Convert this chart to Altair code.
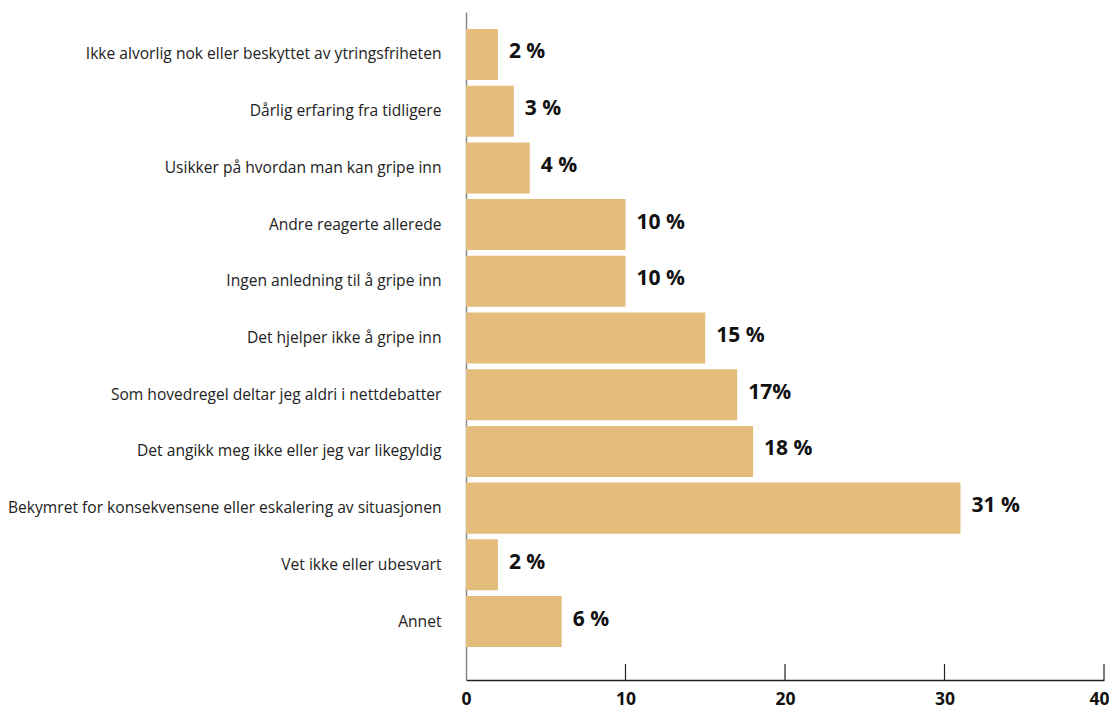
import altair as alt
import pandas as pd

categories = [
    "Ikke alvorlig nok eller beskyttet av ytringsfriheten",
    "Dårlig erfaring fra tidligere",
    "Usikker på hvordan man kan gripe inn",
    "Andre reagerte allerede",
    "Ingen anledning til å gripe inn",
    "Det hjelper ikke å gripe inn",
    "Som hovedregel deltar jeg aldri i nettdebatter",
    "Det angikk meg ikke eller jeg var likegyldig",
    "Bekymret for konsekvensene eller eskalering av situasjonen",
    "Vet ikke eller ubesvart",
    "Annet",
]
values = [2, 3, 4, 10, 10, 15, 17, 18, 31, 2, 6]
labels = ["2 %", "3 %", "4 %", "10 %", "10 %", "15 %", "17%", "18 %", "31 %", "2 %", "6 %"]
tick_values = [10, 20, 30, 40]

df = pd.DataFrame({"cat": categories, "value": values, "label": labels})
ticks = pd.DataFrame({"t": tick_values})

FONT = "Open Sans"
BAR = "#E4BC7B"

yenc = alt.Y(
    "cat:N",
    sort=categories,
    title=None,
    scale=alt.Scale(paddingInner=0.1, paddingOuter=0.44, align=0.34),
    axis=alt.Axis(
        domain=True, domainColor="#888888", domainWidth=1.5,
        ticks=False, labelPadding=25, labelLimit=0,
        labelFont=FONT, labelFontSize=15.6, labelColor="#222222",
    ),
)
xscale = alt.Scale(domain=[0, 40], nice=False)
xenc = alt.X(
    "value:Q",
    scale=xscale,
    title=None,
    axis=alt.Axis(
        values=[0, 10, 20, 30, 40], ticks=False, grid=False,
        domain=True, domainColor="#222222", domainWidth=1.5,
        labelFont=FONT, labelFontSize=17.5, labelFontWeight="bold",
        labelColor="#111111", labelPadding=10, labelFlush=False,
        labelOffset={"expr": "datum.value == 40 ? -5 : 0"},
    ),
)

bars = alt.Chart(df).mark_bar(color=BAR).encode(x=xenc, y=yenc)
text = alt.Chart(df).mark_text(
    align="left", baseline="middle", dx=11, dy=-2,
    font=FONT, fontSize=21, fontWeight="bold", color="#111111",
).encode(x=alt.X("value:Q", scale=xscale), y=alt.Y("cat:N", sort=categories), text="label:N")
tick_rules = alt.Chart(ticks).mark_rule(color="#222222", strokeWidth=1.2).encode(
    x=alt.X("t:Q", scale=xscale),
    y=alt.value(652),
    y2=alt.value(668),
)

chart = alt.layer(bars, text, tick_rules).properties(
    width=638,
    height=668,
    autosize=alt.AutoSizeParams(type="none"),
    padding={"left": 458, "top": 4, "right": 5, "bottom": 31},
).configure_view(stroke=None)

chart.save("out.html", embed_options={"renderer": "svg", "actions": False})
